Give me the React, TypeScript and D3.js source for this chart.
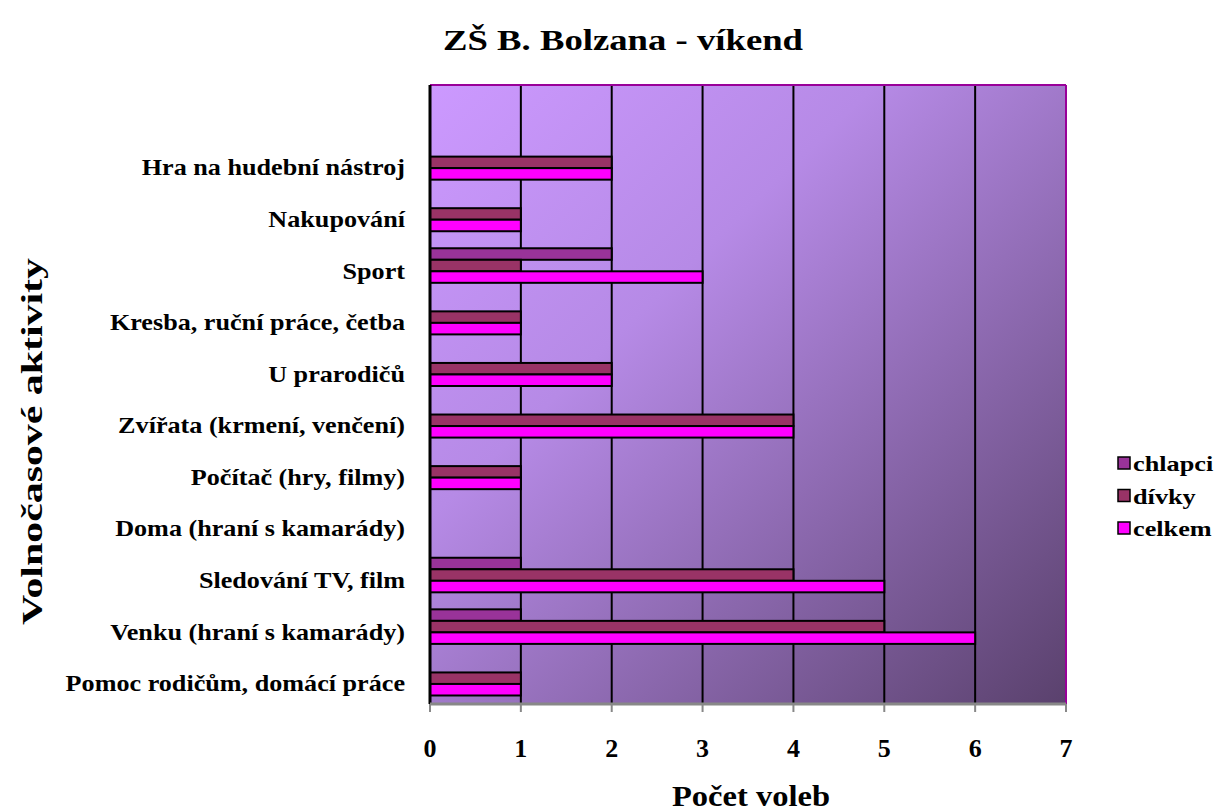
import React from 'react';
import * as d3 from 'd3';

// categories listed top to bottom (first one is an empty slot at the top)
const categories = [
  '',
  'Hra na hudební nástroj',
  'Nakupování',
  'Sport',
  'Kresba, ruční práce, četba',
  'U  prarodičů',
  'Zvířata (krmení, venčení)',
  'Počítač (hry, filmy)',
  'Doma (hraní s kamarády)',
  'Sledování TV, film',
  'Venku (hraní s kamarády)',
  'Pomoc rodičům, domácí práce',
];
const chlapci = [0, 0, 0, 2, 0, 0, 0, 0, 0, 1, 1, 0];
const divky = [0, 2, 1, 1, 1, 2, 4, 1, 0, 4, 5, 1];
const celkem = [0, 2, 1, 3, 1, 2, 4, 1, 0, 5, 6, 1];
const seriesNames = ['chlapci', 'dívky', 'celkem'];
const seriesColors = ['#993399', '#993366', '#FF00FF'];
const xTicks = [0, 1, 2, 3, 4, 5, 6, 7];

const W = 1220;
const H = 812;
const plot = { left: 430, right: 1066, top: 85, bottom: 704 };
const FONT = '"Liberation Serif", "Times New Roman", serif';

export default function App() {
  const x = d3.scaleLinear().domain([0, 7]).range([plot.left, plot.right]);
  const y = d3.scaleBand<string>()
    .domain(categories.map((c, i) => i + ':' + c))
    .range([plot.top, plot.bottom])
    .paddingInner(0.33)
    .paddingOuter(0.165);
  const inner = d3.scaleBand<string>()
    .domain(seriesNames)
    .range([0, y.bandwidth()]);
  const values = [chlapci, divky, celkem];

  return (
    <svg width={W} height={H} style={{ position: 'absolute', left: 0, top: 0, fontFamily: FONT }}>
      <defs>
        <linearGradient id="bg" x1="0" y1="0" x2="1" y2="1">
          <stop offset="0" stopColor="#CC99FF" />
          <stop offset="0.35" stopColor="#B68AE6" />
          <stop offset="1" stopColor="#5A416D" />
        </linearGradient>
      </defs>
      <rect x={0} y={0} width={W} height={H} fill="#fff" />
      <text x={443} y={50} fontSize={29} fontWeight="bold" textLength={360} lengthAdjust="spacingAndGlyphs">ZŠ B. Bolzana - víkend</text>

      <rect x={plot.left} y={plot.top} width={plot.right - plot.left} height={plot.bottom - plot.top} fill="url(#bg)" />
      {xTicks.slice(1, -1).map(t => (
        <line key={t} x1={x(t)} x2={x(t)} y1={plot.top} y2={plot.bottom} stroke="#000" strokeWidth={2} />
      ))}

      {categories.map((c, i) => {
        const y0 = y(i + ':' + c) as number;
        const cy = y0 + y.bandwidth() / 2;
        return (
          <g key={i}>
            {values.map((vals, s) => vals[i] > 0 ? (
              <rect key={s} x={x(0)} y={y0 + (inner(seriesNames[s]) as number)}
                width={x(vals[i]) - x(0)} height={inner.bandwidth()}
                fill={seriesColors[s]} stroke="#000" strokeWidth={2} />
            ) : null)}
            <text transform={`translate(405,${cy + 13}) scale(1.09,1)`} textAnchor="end" fontSize={24} fontWeight="bold">{c}</text>
          </g>
        );
      })}

      <line x1={plot.left} x2={plot.right} y1={plot.top} y2={plot.top} stroke="#990099" strokeWidth={2} />
      <line x1={plot.right} x2={plot.right} y1={plot.top} y2={plot.bottom} stroke="#990099" strokeWidth={2} />
      <line x1={plot.left} x2={plot.left} y1={plot.top} y2={plot.bottom} stroke="#000" strokeWidth={3} />
      <line x1={plot.left} x2={plot.right} y1={plot.bottom} y2={plot.bottom} stroke="#888" strokeWidth={3} />
      {xTicks.map(t => (
        <g key={t}>
          <line x1={x(t)} x2={x(t)} y1={plot.bottom} y2={plot.bottom + 8} stroke="#888" strokeWidth={2} />
          <text x={x(t)} y={757} textAnchor="middle" fontSize={26} fontWeight="bold">{t}</text>
        </g>
      ))}

      <text x={672} y={806} fontSize={29} fontWeight="bold" textLength={158} lengthAdjust="spacingAndGlyphs">Počet voleb</text>
      <text transform="translate(42,625) rotate(-90)" fontSize={29} fontWeight="bold" textLength={367} lengthAdjust="spacingAndGlyphs">Volnočasové aktivity</text>

      {seriesNames.map((s, i) => (
        <g key={s} transform={`translate(1118,${457 + i * 32.5})`}>
          <rect x={0} y={0} width={12} height={12} fill={seriesColors[i]} stroke="#000" strokeWidth={1.5} />
          <text transform="translate(15,14) scale(1.25,1)" fontSize={21} fontWeight="bold">{s}</text>
        </g>
      ))}
    </svg>
  );
}
